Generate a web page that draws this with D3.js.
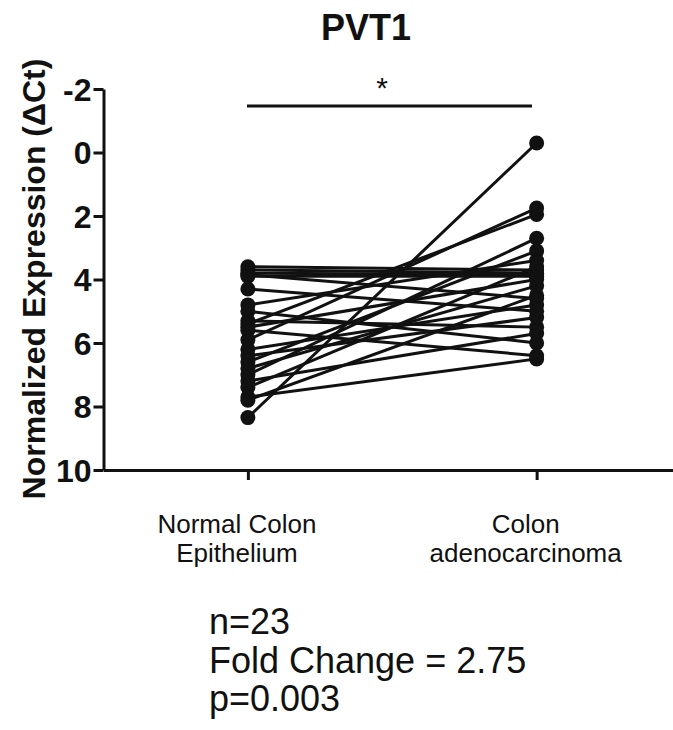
<!DOCTYPE html>
<html>
<head>
<meta charset="utf-8">
<script src="https://cdn.jsdelivr.net/npm/d3@7"></script>
<style>
body { margin: 0; background: #fff; }
text { font-family: "Liberation Sans", Arial, sans-serif; fill: #111; }
</style>
</head>
<body>
<div class="chart"></div>
<script>
chartWidth = 673;
chartHeight = 730;

groups = ["Normal Colon Epithelium", "Colon adenocarcinoma"];
groupLines = [["Normal Colon", "Epithelium"], ["Colon", "adenocarcinoma"]];
yTicks = [-2, 0, 2, 4, 6, 8, 10];

// paired dCt values, same index = same patient
normalValues = [3.6, 3.7, 3.8, 3.85, 3.9, 4.3, 4.8, 5.0, 5.3, 5.4, 5.5, 5.6, 5.9, 6.2, 6.4, 6.6, 6.8, 7.0, 7.2, 7.4, 7.7, 7.8, 8.35];
tumorValues = [3.7, 3.8, 3.85, 4.6, 3.9, 5.0, 3.4, 6.0, 5.5, 1.95, 4.0, 6.4, 1.75, 4.8, 5.2, 3.1, 4.2, 2.7, 5.7, 3.6, 6.5, 4.5, -0.3];

statsLines = ["n=23", "Fold Change = 2.75", "p=0.003"];

var svg = d3.select(".chart")
    .append("svg")
    .attr("width", chartWidth)
    .attr("height", chartHeight);

var xScale = d3.scalePoint().domain(groups).range([103.5, 681]).padding(0.5);
var yScale = d3.scaleLinear().domain([-2, 10]).range([89, 470]);

var pairs = normalValues.map(function(d, i) {
    return {normal: d, tumor: tumorValues[i]};
});

// paired lines
svg.selectAll(".pairLine")
    .data(pairs)
    .enter().append("line")
    .attr("class", "pairLine")
    .attr("x1", xScale(groups[0]))
    .attr("x2", xScale(groups[1]))
    .attr("y1", function(d) { return yScale(d.normal); })
    .attr("y2", function(d) { return yScale(d.tumor); })
    .attr("stroke", "#111")
    .attr("stroke-width", 3);

// dots
groups.forEach(function(g, gi) {
    svg.selectAll(".dot" + gi)
        .data(pairs)
        .enter().append("circle")
        .attr("class", "dot" + gi)
        .attr("cx", xScale(g))
        .attr("cy", function(d) { return yScale(gi === 0 ? d.normal : d.tumor); })
        .attr("r", 7.5)
        .attr("fill", "#111");
});

// axes
var yAxis = d3.axisLeft(yScale)
    .tickValues(yTicks)
    .tickFormat(function(d) { return String(d); })
    .tickSize(10)
    .tickPadding(2)
    .tickSizeOuter(0);
var yG = svg.append("g")
    .attr("transform", "translate(103.5,0)")
    .call(yAxis);
yG.selectAll("text")
    .attr("font-size", 32)
    .attr("font-weight", "bold")
    .attr("dy", "0.35em")
    .style("font-family", "'Liberation Sans', Arial, sans-serif");

var xAxis = d3.axisBottom(xScale).tickSize(10).tickSizeOuter(0).tickFormat("");
svg.append("g")
    .attr("transform", "translate(0,470)")
    .call(xAxis);

svg.selectAll(".domain, .tick line")
    .attr("stroke", "#111")
    .attr("stroke-width", 3);

// category labels (sit a little left of their ticks in the original)
groups.forEach(function(g, gi) {
    var cx = xScale(g) - 11;
    var t = svg.append("text")
        .attr("x", cx)
        .attr("y", 533)
        .attr("text-anchor", "middle")
        .attr("font-size", 26);
    groupLines[gi].forEach(function(s, li) {
        t.append("tspan")
            .attr("x", cx)
            .attr("dy", li === 0 ? 0 : 29)
            .text(s);
    });
});

// y axis title
svg.append("text")
    .attr("transform", "translate(45,279) rotate(-90)")
    .attr("text-anchor", "middle")
    .attr("font-size", 32)
    .attr("font-weight", "bold")
    .text("Normalized Expression (\u0394Ct)");

// title
svg.append("text")
    .attr("x", 366)
    .attr("y", 40)
    .attr("text-anchor", "middle")
    .attr("font-size", 36)
    .attr("font-weight", "bold")
    .text("PVT1");

// significance bar
svg.append("line")
    .attr("x1", 247)
    .attr("x2", 532)
    .attr("y1", 106)
    .attr("y2", 106)
    .attr("stroke", "#111")
    .attr("stroke-width", 3);
svg.append("text")
    .attr("x", 382)
    .attr("y", 98)
    .attr("text-anchor", "middle")
    .attr("font-size", 30)
    .text("*");

// stats text
svg.selectAll(".stat")
    .data(statsLines)
    .enter().append("text")
    .attr("class", "stat")
    .attr("x", 209)
    .attr("y", function(d, i) { return 634 + i * 38.5; })
    .attr("font-size", 36)
    .text(function(d) { return d; });
</script>
</body>
</html>
